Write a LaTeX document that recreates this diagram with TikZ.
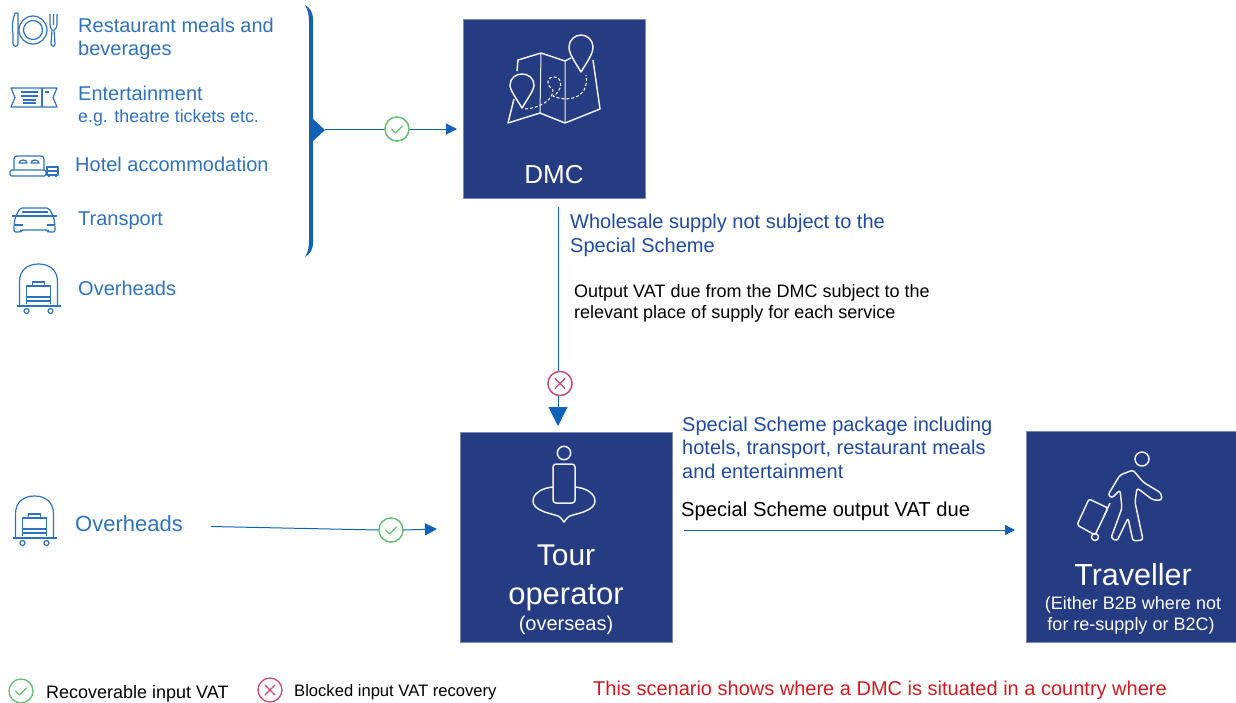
\documentclass[tikz,border=0pt]{standalone}
\usepackage{fontspec}
\setmainfont{Liberation Sans}
\usetikzlibrary{arrows.meta}
\definecolor{navy}{HTML}{253C82}
\definecolor{bright}{HTML}{0F62B8}
\definecolor{labelblue}{HTML}{2F72BE}
\definecolor{deepblue}{HTML}{1F4AA0}
\definecolor{okgreen}{HTML}{63C06E}
\definecolor{nogood}{HTML}{C94A6E}
\definecolor{redtext}{HTML}{D01A20}
\newcommand{\fs}[1]{\fontsize{#1}{#1}\selectfont}
\tikzset{
  x=1pt,y=-1pt,
  box/.style={draw=navy!60,line width=.5pt,fill=navy,anchor=north west,inner sep=0pt,minimum width=#1},
  lbl/.style={anchor=base west,inner sep=0pt,text=labelblue,font=\fs{20}},
  boxtext/.style={anchor=base,inner sep=0pt,text=white},
  note/.style={anchor=base west,inner sep=0pt,text=deepblue,font=\fs{20}},
  plain/.style={anchor=base west,inner sep=0pt,text=black},
  conn/.style={draw=bright,line width=1pt},
  tiparrow/.style={conn,-{Triangle[length=#1,width=#1]}},
  ok/.style={circle,draw=okgreen,line width=1.3pt,fill=white,minimum size=24pt,inner sep=0pt},
  no/.style={circle,draw=nogood,line width=1.3pt,fill=white,minimum size=24pt,inner sep=0pt},
  ico/.style={draw=labelblue,line width=1.2pt,line join=round},
  wico/.style={draw=white!92!navy,line width=1.5pt,line join=round},
  trolley/.pic={
    \draw[ico] (1,43) -- (1,18) .. controls (1,6) and (9,0) .. (20,0) .. controls (31,0) and (39,6) .. (39,18) -- (39,43);
    \draw[ico] (-2,42) -- (42,42);
    \draw[ico] (8,40) -- (8,22) -- (32,22) -- (32,40);
    \draw[ico] (14,22) -- (14,18) -- (26,18) -- (26,22);
    \draw[ico] (8,33) -- (32,33) (8,37) -- (32,37);
    \draw[ico] (8,47) circle (2.5) (32,47) circle (2.5);
  },
  okmark/.pic={\draw[okgreen,line width=1.3pt,line cap=round,line join=round] (-5.5,0) -- (-1.5,4) -- (5.5,-3);},
  nomark/.pic={\draw[nogood,line width=1.3pt,line cap=round] (-5,-5) -- (5,5) (-5,5) -- (5,-5);},
}
\begin{document}
\begin{tikzpicture}
\useasboundingbox (0,0) rectangle (1236,702);
% boxes
\node[box=182pt,minimum height=179pt] (dmc) at (463,19) {};
\node[box=212pt,minimum height=210pt] (tour) at (460,432) {};
\node[box=210pt,minimum height=211pt] (traveller) at (1026,431) {};
\node[boxtext,font=\fs{26}] (dmclabel) at (554,183) {DMC};
\node[boxtext,font=\fs{30}] (tourlabel) at (566,565) {Tour};
\node[boxtext,font=\fs{31}] (oplabel) at (566,604) {operator};
\node[boxtext,font=\fs{20}] (ovlabel) at (566,630) {(overseas)};
\node[boxtext,font=\fs{30.5}] (travlabel) at (1133,585) {Traveller};
\node[boxtext,font=\fs{18}] (trav1) at (1133,609) {(Either B2B where not};
\node[boxtext,font=\fs{18}] (trav2) at (1131,630) {for re-supply or B2C)};
% left labels
\node[lbl] (t1) at (78,32) {Restaurant meals and};
\node[lbl] (t1b) at (78,55) {beverages};
\node[lbl] (t2) at (78,100) {Entertainment};
\node[lbl,font=\fs{17.8}] (t2b) at (78,122) {e.g. theatre tickets etc.};
\node[lbl] (t3) at (75,171) {Hotel accommodation};
\node[lbl] (t4) at (78,225) {Transport};
\node[lbl] (t5) at (78,295) {Overheads};
\node[lbl,font=\fs{22}] (t6) at (75,531) {Overheads};
% notes
\node[note] (n1) at (570,228) {Wholesale supply not subject to the};
\node[note] (n2) at (570,252) {Special Scheme};
\node[plain,font=\fs{18}] (n3) at (574,297) {Output VAT due from the DMC subject to the};
\node[plain,font=\fs{18}] (n4) at (574,318) {relevant place of supply for each service};
\node[note] (n5) at (682,431) {Special Scheme package including};
\node[note] (n6) at (682,454) {hotels, transport, restaurant meals};
\node[note] (n7) at (682,478) {and entertainment};
\node[plain,font=\fs{20.2}] (n8) at (681,516) {Special Scheme output VAT due};
% legend
\node[plain,font=\fs{18}] (l1) at (46,698) {Recoverable input VAT};
\node[plain,font=\fs{16.6}] (l2) at (294,696) {Blocked input VAT recovery};
\node[plain,font=\fs{20},text=redtext] (l3) at (593,695) {This scenario shows where a DMC is situated in a country where};
% bracket
\fill[bright] (305,5) .. controls (310,8) and (313,12) .. (313,20) -- (313,119) -- (325,130) -- (313,141) -- (313,242) .. controls (313,250) and (310,254) .. (305,257) .. controls (308,252) and (309,248) .. (309,240) -- (309,22) .. controls (309,14) and (308,10) .. (305,5) -- cycle;
% connectors
\coordinate (brtip) at (325,129);
\coordinate (dmcin) at (457,129);
\coordinate (dmcout) at (558,207);
\coordinate (tourin) at (558,426);
\coordinate (ovout) at (211,526.5);
\coordinate (tourleft) at (437,529);
\coordinate (tourout) at (684,530);
\coordinate (travin) at (1015,530);
\node[ok] (c1) at (397,129) {};
\node[no] (c2) at (560,383.5) {};
\node[ok] (c3) at (391,530) {};
\draw[tiparrow=11pt] (brtip) -- (c1) -- (dmcin);
\draw[conn] (dmcout) -- (558,371.5);
\draw[tiparrow=19pt] (558,395.5) -- (tourin);
\draw[conn] (ovout) -- (c3.west);
\draw[tiparrow=12pt] (c3.east) -- (tourleft);
\draw[tiparrow=10pt] (tourout) -- (travin);
\node[ok] (c1) at (397,129) {};
\node[no] (c2) at (560,383.5) {};
\node[ok] (c3) at (391,530) {};
\pic at (397,129) {okmark};
\pic at (560,383.5) {nomark};
\pic at (391,530) {okmark};
\node[ok] (c4) at (21,691) {};
\node[no] (c5) at (270,690) {};
\pic at (21,691) {okmark};
\pic at (270,690) {nomark};
% cutlery
\draw[ico] (33,30) circle (14) (33,30) circle (9.5);
\draw[ico] (15,13) .. controls (12,20) and (12,28) .. (13,34) -- (13,44) .. controls (14,47) and (17,47) .. (18,44) -- (18,13) -- (15,13);
\draw[ico] (50,14) -- (50,24) .. controls (50,28) and (52,29) .. (52,30) -- (51,44) .. controls (52,47) and (55,47) .. (55,44) -- (54,30) .. controls (55,29) and (57,28) .. (57,24) -- (57,14) (53.5,14) -- (53.5,25);
% ticket
\draw[ico] (11,88) -- (57,88) -- (53,97.5) -- (57,107) -- (11,107) -- (15,97.5) -- cycle;
\draw[ico] (42,88) -- (42,107);
\draw[ico] (21,92) -- (38,92) (21,96) -- (38,96) (23,100) -- (36,100) (23,103) -- (36,103) (45,92) -- (49,92);
% bed
\draw[ico,rounded corners=3pt] (14,170) -- (14,156) -- (44,156) -- (44,170);
\draw[ico,rounded corners=1.5pt] (10,176) -- (10,170) -- (46,170) -- (46,176) -- cycle;
\draw[ico] (19,163) .. controls (19,159) and (27,159) .. (27,163) -- cycle (31,163) .. controls (31,159) and (39,159) .. (39,163) -- cycle;
\draw[ico] (47,167) -- (58,167) -- (58,175) -- (47,175) -- cycle (47,171) -- (58,171) (49,175) -- (49,177) (56,175) -- (56,177);
% car
\draw[ico,rounded corners=2pt] (15,218) -- (20,208) -- (49,208) -- (54,218) -- (55,226) -- (55,232) -- (48,232) -- (48,230) -- (21,230) -- (21,232) -- (14,232) -- (14,226) -- cycle;
\draw[ico] (12,216) -- (57,216) (15,225) -- (23,225) (47,225) -- (55,225) (22,212) -- (48,212);
% trolleys
\pic at (18.5,264) {trolley};
\pic at (14.5,496) {trolley};
% map
\draw[wico] (514,99) -- (508,123) -- (540,113) -- (565,123) -- (600,109) -- (593,60);
\draw[wico] (517,71) -- (518,60) -- (541,53) -- (565,61) -- (571,58);
\draw[wico,line width=1pt] (541,53) -- (540,113) (565,61) -- (565,123);
\draw[wico] (581,72) .. controls (575,62) and (569,54) .. (569,47) .. controls (569,40) and (575,35) .. (581,35) .. controls (587,35) and (593,40) .. (593,47) .. controls (593,54) and (587,62) .. (581,72) -- cycle;
\draw[wico] (522,108) .. controls (516,98) and (510,90) .. (510,85) .. controls (510,78) and (516,74) .. (522,74) .. controls (528,74) and (534,78) .. (534,85) .. controls (534,90) and (528,98) .. (522,108) -- cycle;
\draw[wico,dash pattern=on 3pt off 2pt,line width=1.1pt] (525,109) .. controls (540,108) and (553,100) .. (553,90) .. controls (546,85) and (546,77) .. (554,77) .. controls (564,77) and (562,92) .. (553,96) .. controls (565,102) and (590,100) .. (586,75);
% tour icon
\draw[wico] (564,453) circle (6.7);
\draw[wico,rounded corners=3pt] (553,464) -- (575,464) -- (575,503) -- (553,503) -- cycle;
\draw[wico] (553,487) .. controls (541,488) and (533,494) .. (533,501) .. controls (533,510) and (548,513) .. (555,515) .. controls (560,516) and (562,519) .. (564,522) .. controls (566,519) and (568,516) .. (573,515) .. controls (580,513) and (595,510) .. (595,501) .. controls (595,494) and (587,488) .. (575,487);
% traveller icon
\draw[wico] (1142,459) circle (7);
\draw[wico,rounded corners=2.5pt] (1108,495) -- (1120,475) -- (1133,470) -- (1143,482) -- (1161,493) -- (1162,500) -- (1153,500) -- (1137,488) -- (1135,502) -- (1143,540) -- (1133,541) -- (1128,518) -- (1117,541) -- (1111,538) -- (1122,508) -- (1120,490) -- (1112,498) -- cycle;
\draw[wico,rounded corners=2pt] (1089,499) -- (1108,508) -- (1095,535) -- (1077,525) -- cycle;
\draw[wico] (1095,537) circle (3.5);
\draw[wico] (1104,516) -- (1110,503);
\end{tikzpicture}
\end{document}
